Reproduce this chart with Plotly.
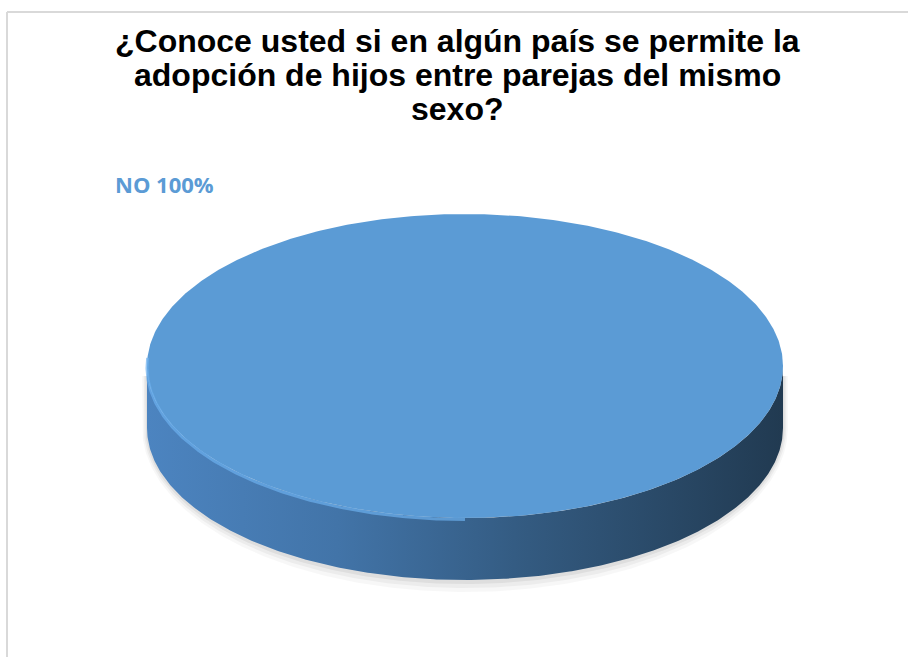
import numpy as np
import plotly.graph_objects as go

# ---- data ----
labels = ["NO"]
values = [100]
colors = ["#5b9bd5"]
title_lines = ["¿Conoce usted si en algún país se permite la",
               "adopción de hijos entre parejas del mismo",
               "sexo?"]

# ---- geometry / style ----
W, H = 908, 657
cx, cy = 465, 366      # ellipse centre (pixel-like axis units)
a, b = 318, 152        # semi axes
depth = 62             # wall thickness

fig = go.Figure()

total = float(sum(values))
fracs = [v / total for v in values]
start = 0.0

# shadow under the disc
for k, alpha in [(12, 0.03), (8, 0.045), (4, 0.06)]:
    t = np.linspace(np.pi, 2 * np.pi, 200)
    xs = cx + (a + k * 0.4) * np.cos(t)
    ys = cy - (b + k) * np.sin(t) + depth
    xs2 = np.concatenate([[cx - a - k * 0.4], xs, [cx + a + k * 0.4]])
    ys2 = np.concatenate([[cy + 10], ys, [cy + 10]])
    fig.add_trace(go.Scatter(x=xs2, y=ys2, fill="toself", mode="lines",
                             line=dict(width=0), fillcolor=f"rgba(0,0,0,{alpha})",
                             hoverinfo="skip", showlegend=False))

for lab, val, f, col in zip(labels, values, fracs, colors):
    th0 = 2 * np.pi * start
    th1 = 2 * np.pi * (start + f)
    start += f
    # front wall: visible part (lower half of ellipse on screen)
    t = np.linspace(th0, th1, 600)
    vis = t[(np.sin(t) <= 0)]
    if f >= 1.0:
        vis = np.linspace(np.pi, 2 * np.pi, 400)
    if len(vis) > 1:
        xt = cx + a * np.cos(vis)
        yt = cy - b * np.sin(vis)
        xw = np.concatenate([xt, xt[::-1]])
        yw = np.concatenate([yt, yt[::-1] + depth])
        fig.add_trace(go.Scatter(
            x=xw, y=yw, fill="toself", mode="lines", line=dict(width=0),
            fillgradient=dict(type="horizontal",
                              colorscale=[[0, "#4c84c0"], [0.3, "#4274a8"],
                                          [0.6, "#335a80"], [1, "#213a51"]]),
            hoverinfo="skip", showlegend=False))
    # top face
    tt = np.linspace(th0, th1, 600)
    xs = cx + a * np.cos(tt)
    ys = cy - b * np.sin(tt)
    if f < 1.0:
        xs = np.concatenate([[cx], xs, [cx]])
        ys = np.concatenate([[cy], ys, [cy]])
    fig.add_trace(go.Scatter(x=xs, y=ys, fill="toself", mode="lines",
                             line=dict(width=0), fillcolor=col,
                             name=lab, hoverinfo="name", showlegend=False))
    # rim highlight along lower-left edge
    th = np.linspace(np.pi * 0.98, np.pi * 1.5, 200)
    fig.add_trace(go.Scatter(x=cx + a * np.cos(th), y=cy - b * np.sin(th) + 1.5,
                             mode="lines", line=dict(width=3, color="#6cb0ee"),
                             opacity=0.7, hoverinfo="skip", showlegend=False))
    # label
    fig.add_annotation(x=113, y=184, xref="x", yref="y",
                       text=f"<b>{lab} {val / total * 100:.0f}%</b>",
                       showarrow=False, xanchor="left", yanchor="middle",
                       font=dict(family="Open Sans", size=22, color="#5b9bd5"))

# title lines
for i, line in enumerate(title_lines):
    fig.add_annotation(x=457, y=41 + 34 * i, xref="x", yref="y",
                       text=f"<b>{line}</b>", showarrow=False,
                       xanchor="center", yanchor="middle",
                       font=dict(family="Liberation Sans", size=32, color="black"))

# frame lines
fig.add_shape(type="line", x0=7, x1=W, y0=12, y1=12, xref="x", yref="y",
              line=dict(color="#d9d9d9", width=2))
fig.add_shape(type="line", x0=7, x1=7, y0=12, y1=H, xref="x", yref="y",
              line=dict(color="#d9d9d9", width=2))

fig.update_layout(
    width=W, height=H,
    margin=dict(l=0, r=0, t=0, b=0),
    paper_bgcolor="white", plot_bgcolor="white",
    xaxis=dict(range=[0, W], visible=False, fixedrange=True),
    yaxis=dict(range=[H, 0], visible=False, fixedrange=True),
    showlegend=False,
)

fig.write_html("out.html", config={"displayModeBar": False},
               post_script="document.body.style.margin='0';")
